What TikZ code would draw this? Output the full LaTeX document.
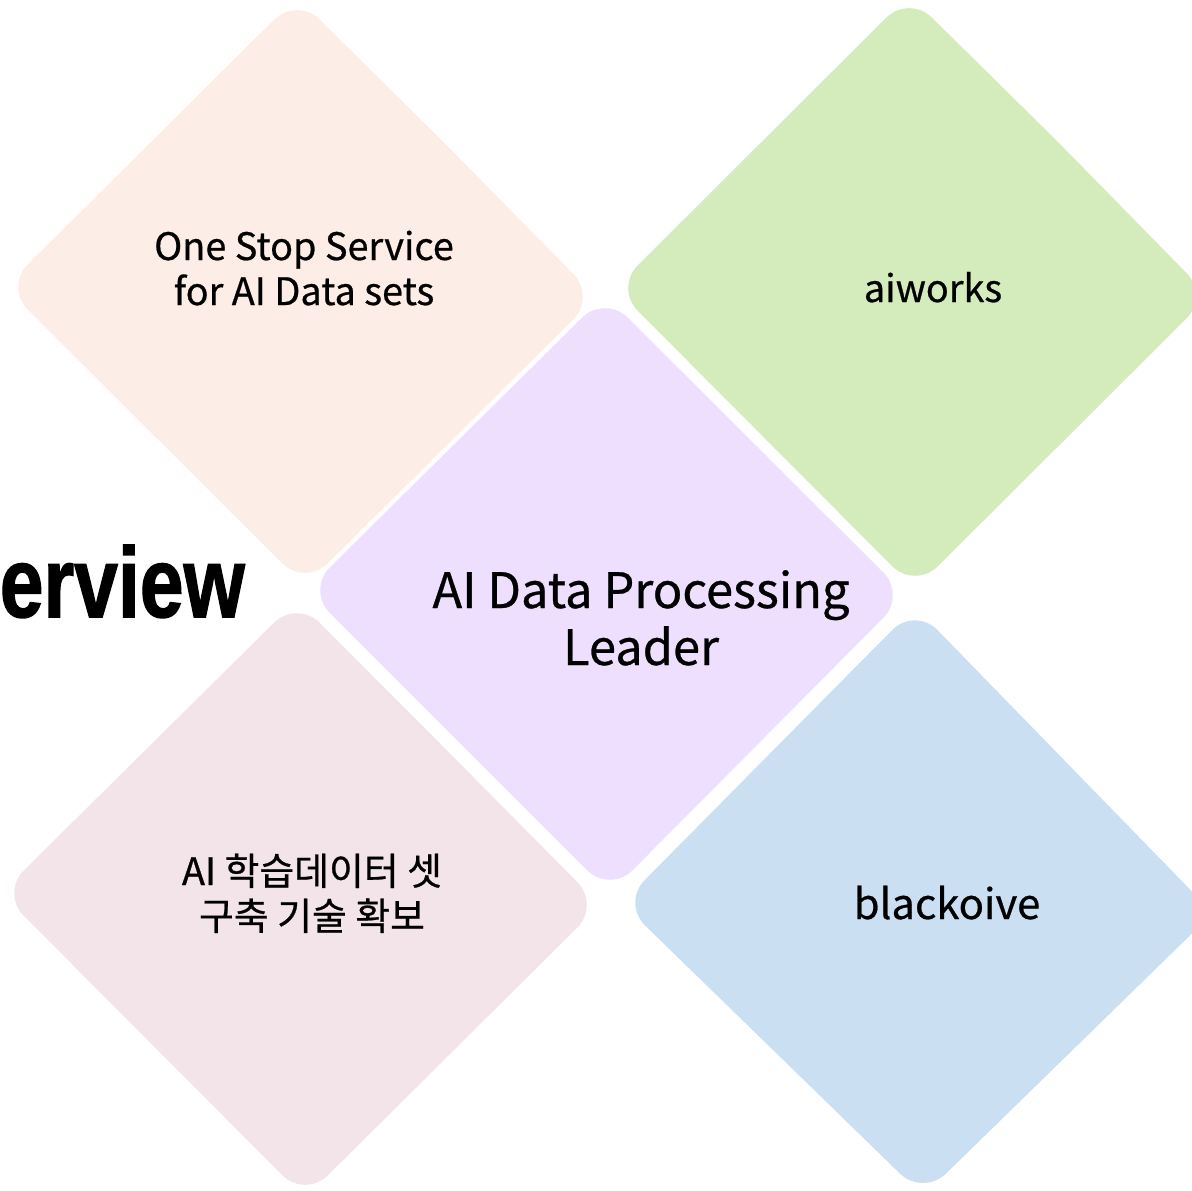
\documentclass[tikz,border=0pt]{standalone}
\usepackage{fontspec}
\setmainfont{Noto Sans CJK KR}[FakeBold=0.6]
\newfontfamily\headfont{Liberation Sans Bold}[FakeBold=1.5]
\definecolor{cPeach}{HTML}{FCEEE6}
\definecolor{cGreen}{HTML}{D4EBBB}
\definecolor{cLav}{HTML}{EDDFFD}
\definecolor{cPink}{HTML}{F3E4EA}
\definecolor{cBlue}{HTML}{CADFF2}
\tikzset{
  dia/.style={rounded corners=32bp},
  txt/.style={inner sep=0pt, anchor=base, font=\fontsize{38}{45}\selectfont},
  bigtxt/.style={inner sep=0pt, anchor=base, font=\fontsize{49}{57}\selectfont},
}
\begin{document}
\begin{tikzpicture}[x=1bp,y=-1bp]
\useasboundingbox (0,0) rectangle (1192,1191);
\clip (0,0) rectangle (1192,1191);
% diamonds
\fill[cPeach, dia] (446.5,145) -- (596,297) -- (305,586) -- (5,287) -- (297,-3) -- cycle;
\fill[cGreen, dia] (1059,143) -- (1209,296) -- (915,589) -- (615,288) -- (909,-5) -- cycle;
\fill[cLav, dia] (755.5,445) -- (906,595) -- (610,893) -- (307,590) -- (605,295) -- cycle;
\fill[cPink, dia] (448.5,752) -- (600,905) -- (305,1198) -- (1,893) -- (297,600) -- cycle;
\fill[cBlue, dia] (1064,760) -- (1213,913) -- (923,1196) -- (622,903) -- (915,607) -- cycle;
% texts
\node[txt] (s1) at (304,260) {One Stop Service};
\node[txt] (s2) at (304,305) {for AI Data sets};
\node[txt] (a) at (933,302) {aiworks};
\node[bigtxt] (c1) at (641,608) {AI Data Processing};
\node[bigtxt] (c2) at (641,665) {Leader};
\node[txt] (k1) at (312,885) {AI 학습데이터 셋};
\node[txt] (k2) at (312,930) {구축 기술 확보};
\node[txt, font=\fontsize{42}{48}\selectfont] (b) at (947,919) {blackoive};
\node[inner sep=0pt, anchor=base east, font=\headfont\fontsize{100}{110}\selectfont, xscale=0.79] (h) at (245,617) {erview};
\end{tikzpicture}
\end{document}
